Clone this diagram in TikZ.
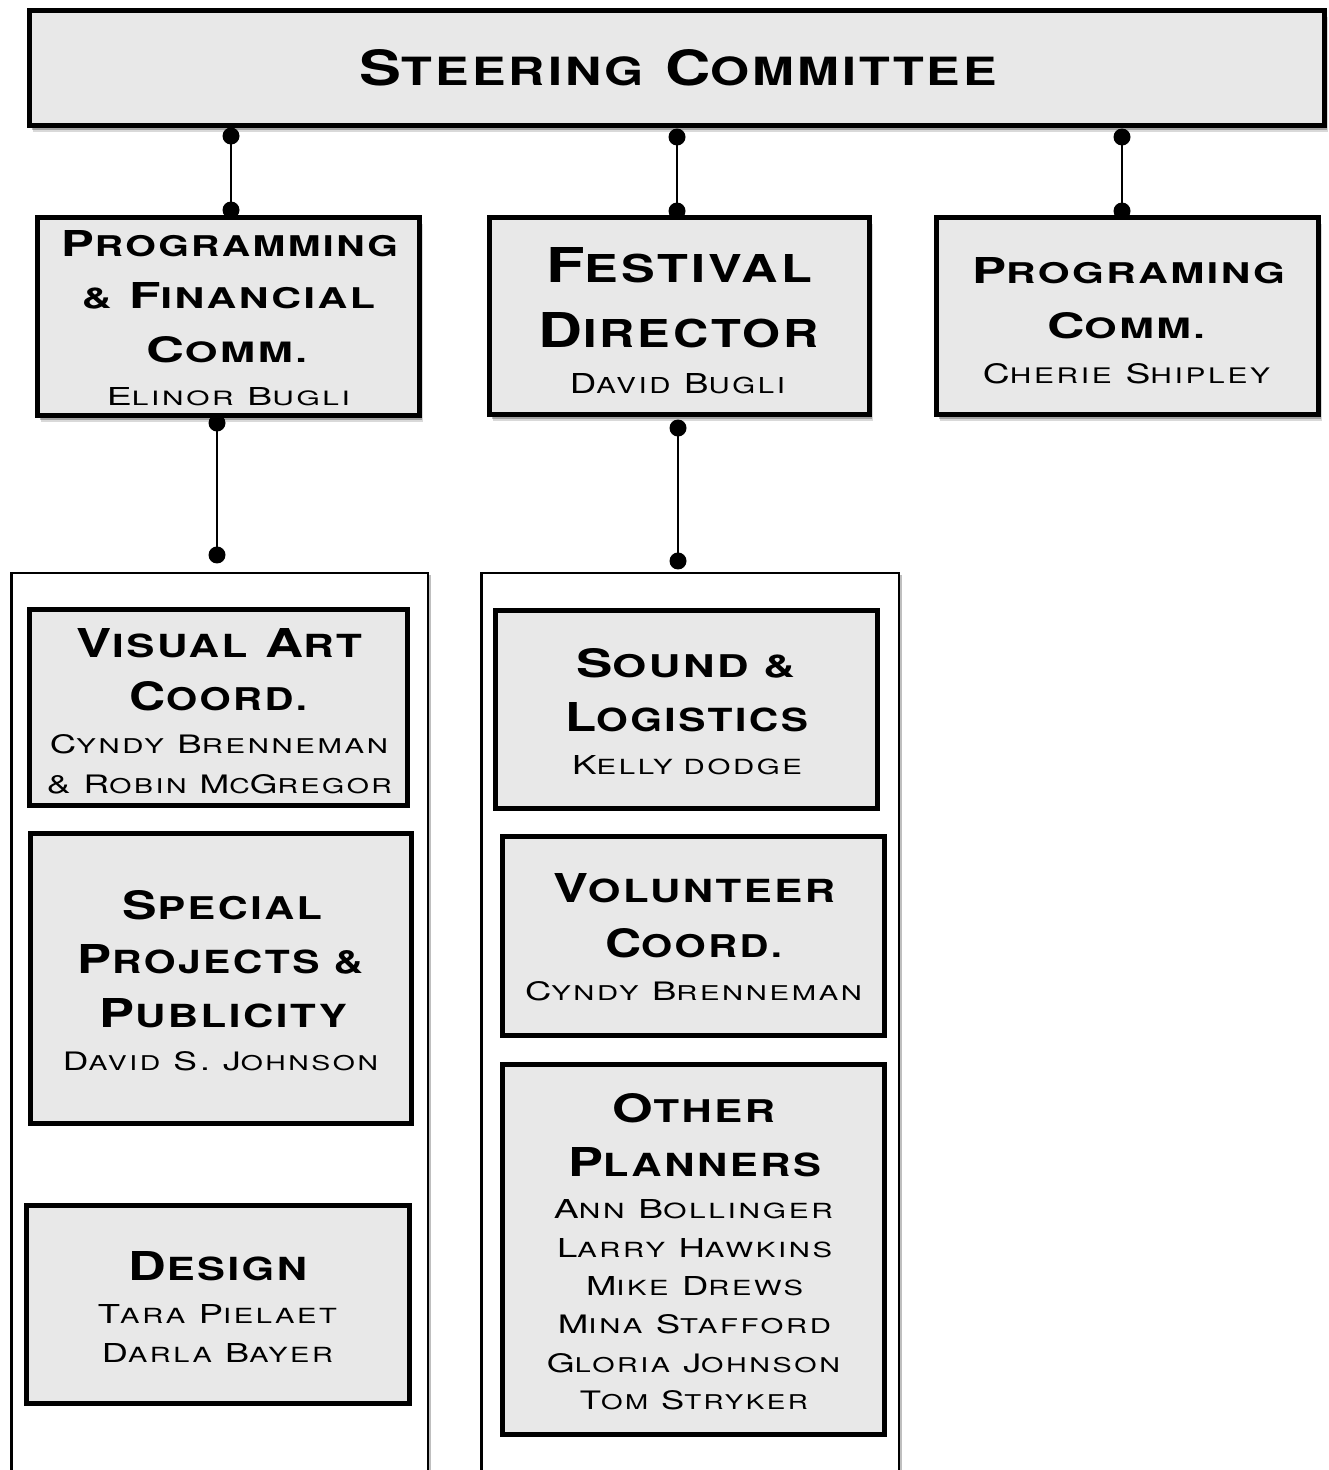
\documentclass[tikz,border=0pt]{standalone}
\usepackage{fontspec}
\usepackage{graphicx}
\usetikzlibrary{shadows,calc}
\newfontfamily\tfont[LetterSpace=6]{TeX Gyre Heros}
\newfontfamily\nfont[LetterSpace=9]{TeX Gyre Heros}
\definecolor{boxgray}{RGB}{232,232,232}
\newcommand\lc[1]{\scalebox{0.8}{#1}}
\newcommand\TL[3]{\resizebox{#1pt}{#2pt}{\tfont\bfseries\fontsize{40}{40}\selectfont #3}}
\newcommand\NL[3]{\resizebox{#1pt}{#2pt}{\nfont\fontsize{26}{26}\selectfont #3}}
\tikzset{
  box/.style={draw=black, line width=5pt, fill=boxgray, inner sep=0pt},
  shbox/.style={box,
    general shadow={shadow xshift=2pt, shadow yshift=-4pt, fill=black, opacity=0.25},
    general shadow={shadow xshift=3pt, shadow yshift=-6pt, fill=black, opacity=0.15}},
  cont/.style={draw=black, line width=2.5pt, fill=white, inner sep=0pt,
    general shadow={shadow xshift=3pt, shadow yshift=-2pt, fill=black, opacity=0.25}},
  txt/.style={inner sep=0pt, anchor=base},
  conn/.style={line width=2.7pt},
}
\newcommand\dotconn[2]{\draw[conn] (#1) -- (#2); \fill (#1) circle (8.5pt); \fill (#2) circle (8.5pt);}
\begin{document}
\begin{tikzpicture}[x=1pt,y=-1pt]
\useasboundingbox (0,0) rectangle (1329,1470);
% top row
\node[shbox, minimum width=1295pt, minimum height=115pt] (steer) at (677,68) {};
\node[shbox, minimum width=382pt, minimum height=198pt] (pf) at (228.5,316.5) {};
\node[shbox, minimum width=380pt, minimum height=197pt] (fd) at (679.5,316) {};
\node[shbox, minimum width=382pt, minimum height=197pt] (pc) at (1127.5,316) {};
% containers
\node[cont, minimum width=416.5pt, minimum height=1026.75pt] (lc) at (219.5,1086.6) {};
\node[cont, minimum width=417.5pt, minimum height=1026.75pt] (rc) at (690,1086.6) {};
% inner boxes
\node[box, minimum width=378pt, minimum height=196pt] (va) at (218.5,707.5) {};
\node[box, minimum width=381pt, minimum height=290pt] (sp) at (221,978.5) {};
\node[box, minimum width=383pt, minimum height=198pt] (ds) at (218,1304.5) {};
\node[box, minimum width=382pt, minimum height=198pt] (sl) at (686.5,709.5) {};
\node[box, minimum width=382pt, minimum height=199pt] (vc) at (693.5,936) {};
\node[box, minimum width=382pt, minimum height=370pt] (op) at (693.5,1249.5) {};
% texts
\node[txt] (steer-t) at (678.5,85) {\TL{637}{36}{S\lc{TEERING} C\lc{OMMITTEE}}};
\node[txt] (pf-1) at (230,256) {\TL{336}{26}{P\lc{ROGRAMMING}}};
\node[txt] (pf-2) at (228.5,308) {\TL{293}{26}{\lc{\&} F\lc{INANCIAL}}};
\node[txt] (pf-3) at (227,362) {\TL{160}{26}{C\lc{OMM.}}};
\node[txt] (pf-4) at (228.5,405) {\NL{243}{18}{E\lc{LINOR} B\lc{UGLI}}};
\node[txt] (fd-1) at (679,282) {\TL{266}{35}{F\lc{ESTIVAL}}};
\node[txt] (fd-2) at (679,347) {\TL{280}{35}{D\lc{IRECTOR}}};
\node[txt] (fd-3) at (677.5,393) {\NL{215}{20}{D\lc{AVID} B\lc{UGLI}}};
\node[txt] (pc-1) at (1128.5,283) {\TL{313}{26}{P\lc{ROGRAMING}}};
\node[txt] (pc-2) at (1126,338) {\TL{158}{26}{C\lc{OMM.}}};
\node[txt] (pc-3) at (1126.5,383) {\NL{287}{20}{C\lc{HERIE} S\lc{HIPLEY}}};
\node[txt] (va-1) at (219.5,657) {\TL{285}{29}{V\lc{ISUAL} A\lc{RT}}};
\node[txt] (va-2) at (218.5,710) {\TL{177}{29}{C\lc{OORD.}}};
\node[txt] (va-3) at (219,753) {\NL{338}{19}{C\lc{YNDY} B\lc{RENNEMAN}}};
\node[txt] (va-4) at (219.5,793) {\NL{345}{19}{\& R\lc{OBIN} M\lc{C}G\lc{REGOR}}};
\node[txt] (sp-1) at (222.5,919) {\TL{199}{29}{S\lc{PECIAL}}};
\node[txt] (sp-2) at (220.5,973) {\TL{285}{29}{P\lc{ROJECTS \&}}};
\node[txt] (sp-3) at (223.5,1027) {\TL{247}{29}{P\lc{UBLICITY}}};
\node[txt] (sp-4) at (220.5,1070) {\NL{315}{19}{D\lc{AVID} S. J\lc{OHNSON}}};
\node[txt] (ds-1) at (218,1280) {\TL{178}{29}{D\lc{ESIGN}}};
\node[txt] (ds-2) at (217.5,1323) {\NL{239}{19}{T\lc{ARA} P\lc{IELAET}}};
\node[txt] (ds-3) at (217.5,1362) {\NL{231}{19}{D\lc{ARLA} B\lc{AYER}}};
\node[txt] (sl-1) at (685.5,677) {\TL{219}{29}{S\lc{OUND \&}}};
\node[txt] (sl-2) at (686.5,731) {\TL{243}{29}{L\lc{OGISTICS}}};
\node[txt] (sl-3) at (687,774) {\NL{230}{19}{K\lc{ELLY DODGE}}};
\node[txt] (vc-1) at (694,902) {\TL{282}{29}{V\lc{OLUNTEER}}};
\node[txt] (vc-2) at (693.5,957) {\TL{177}{29}{C\lc{OORD.}}};
\node[txt] (vc-3) at (693.5,1000) {\NL{337}{19}{C\lc{YNDY} B\lc{RENNEMAN}}};
\node[txt] (op-1) at (694,1122) {\TL{162}{29}{O\lc{THER}}};
\node[txt] (op-2) at (694.5,1176) {\TL{253}{29}{P\lc{LANNERS}}};
\node[txt] (op-3) at (693.5,1218) {\NL{279}{19}{A\lc{NN} B\lc{OLLINGER}}};
\node[txt] (op-4) at (694.5,1257) {\NL{275}{19}{L\lc{ARRY} H\lc{AWKINS}}};
\node[txt] (op-5) at (694.5,1295) {\NL{217}{19}{M\lc{IKE} D\lc{REWS}}};
\node[txt] (op-6) at (694.5,1333) {\NL{273}{19}{M\lc{INA} S\lc{TAFFORD}}};
\node[txt] (op-7) at (693.5,1372) {\NL{293}{19}{G\lc{LORIA} J\lc{OHNSON}}};
\node[txt] (op-8) at (694,1409) {\NL{228}{19}{T\lc{OM} S\lc{TRYKER}}};
% connectors
\coordinate (c1a) at ($(steer.south -| pf.north)+(2.5,8)$);
\coordinate (c1b) at ($(pf.north)+(2.5,-5)$);
\coordinate (c2a) at ($(steer.south -| fd.north)+(-2.5,9)$);
\coordinate (c2b) at ($(fd.north)+(-2.5,-4)$);
\coordinate (c3a) at ($(steer.south -| pc.north)+(-5.5,9)$);
\coordinate (c3b) at ($(pc.north)+(-5.5,-4)$);
\coordinate (c4a) at ($(pf.south)+(-11.5,5)$);
\coordinate (c4b) at ($(lc.north -| c4a)+(0,-17)$);
\coordinate (c5a) at ($(fd.south)+(-1.5,11)$);
\coordinate (c5b) at ($(rc.north -| c5a)+(0,-11)$);
\dotconn{c1a}{c1b}
\dotconn{c2a}{c2b}
\dotconn{c3a}{c3b}
\dotconn{c4a}{c4b}
\dotconn{c5a}{c5b}
\end{tikzpicture}
\end{document}
